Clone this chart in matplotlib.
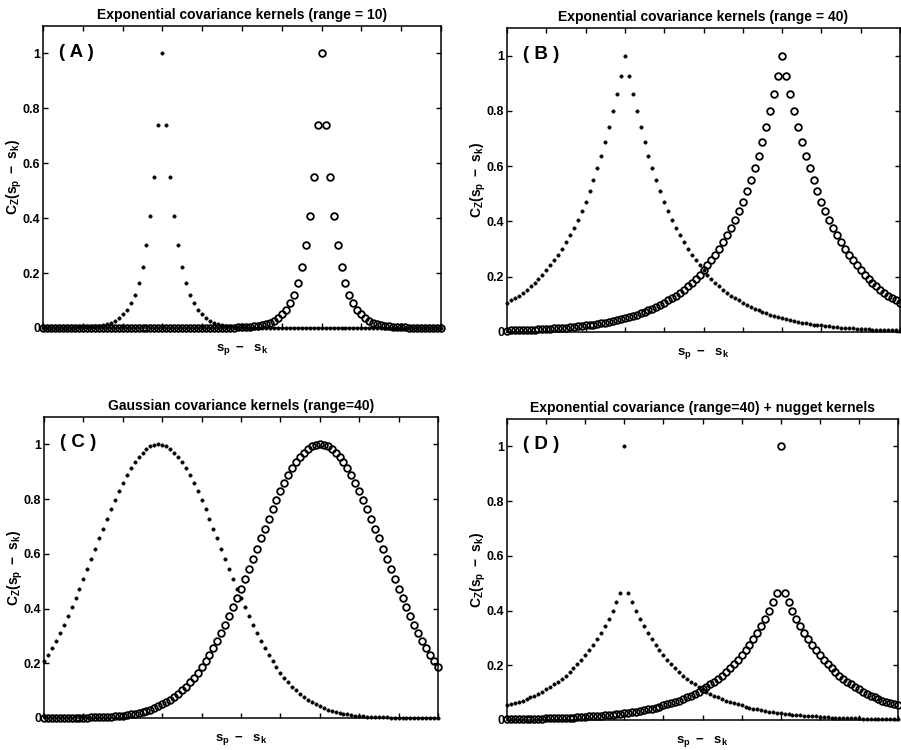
import matplotlib
matplotlib.use("Agg")
import matplotlib.pyplot as plt

plt.rcParams['font.family'] = ['Liberation Sans', 'DejaVu Sans']
plt.rcParams['font.weight'] = 'bold'
plt.rcParams['mathtext.fontset'] = 'custom'
plt.rcParams['mathtext.rm'] = 'Liberation Sans:bold'
plt.rcParams['mathtext.bf'] = 'Liberation Sans:bold'
plt.rcParams['mathtext.it'] = 'Liberation Sans:bold'
plt.rcParams['mathtext.sf'] = 'Liberation Sans:bold'
plt.rcParams['mathtext.default'] = 'bf'

# ---------------- data ----------------
x = list(range(0, 101))

titles = [
    "Exponential covariance kernels (range = 10)",
    "Exponential covariance kernels (range = 40)",
    "Gaussian covariance kernels (range=40)",
    "Exponential covariance (range=40) + nugget kernels",
]
panel_labels = ["( A )", "( B )", "( C )", "( D )"]
ytick_values = [0, 0.2, 0.4, 0.6, 0.8, 1.0]
ytick_labels = ["0", "0.2", "0.4", "0.6", "0.8", "1"]
xtick_values = [0, 10, 20, 30, 40, 50, 60, 70, 80, 90, 100]

a_dots = [
    0, 0, 0, 0, 0, 0.001, 0.001, 0.001, 0.001, 0.002,
    0.002, 0.003, 0.005, 0.006, 0.008, 0.011, 0.015, 0.020, 0.027, 0.037,
    0.050, 0.067, 0.091, 0.122, 0.165, 0.223, 0.301, 0.407, 0.549, 0.741,
    1.000,
    0.741, 0.549, 0.407, 0.301, 0.223, 0.165, 0.122, 0.091, 0.067, 0.050,
    0.037, 0.027, 0.020, 0.015, 0.011, 0.008, 0.006, 0.005, 0.003, 0.002,
    0.002, 0.001, 0.001, 0.001, 0.001,
    0, 0, 0, 0, 0, 0, 0, 0, 0, 0,
    0, 0, 0, 0, 0, 0, 0, 0, 0, 0,
    0, 0, 0, 0, 0, 0, 0, 0, 0, 0,
    0, 0, 0, 0, 0, 0, 0, 0, 0, 0,
    0, 0, 0, 0, 0,
]
a_open = [
    0, 0, 0, 0, 0, 0, 0, 0, 0, 0,
    0, 0, 0, 0, 0, 0, 0, 0, 0, 0,
    0, 0, 0, 0, 0, 0, 0, 0, 0, 0,
    0, 0, 0, 0, 0, 0, 0, 0, 0, 0,
    0, 0, 0, 0, 0,
    0.001, 0.001, 0.001, 0.001, 0.002,
    0.002, 0.003, 0.005, 0.006, 0.008, 0.011, 0.015, 0.020, 0.027, 0.037,
    0.050, 0.067, 0.091, 0.122, 0.165, 0.223, 0.301, 0.407, 0.549, 0.741,
    1.000,
    0.741, 0.549, 0.407, 0.301, 0.223, 0.165, 0.122, 0.091, 0.067, 0.050,
    0.037, 0.027, 0.020, 0.015, 0.011, 0.008, 0.006, 0.005, 0.003, 0.002,
    0.002, 0.001, 0.001, 0.001, 0.001,
    0, 0, 0, 0, 0,
]

b_dots = [
    0.105, 0.114, 0.122, 0.132, 0.142, 0.153, 0.165, 0.178, 0.192, 0.207,
    0.223, 0.241, 0.259, 0.279, 0.301, 0.325, 0.350, 0.377, 0.407, 0.438,
    0.472, 0.509, 0.549, 0.592, 0.638, 0.687, 0.741, 0.799, 0.861, 0.928,
    1.000,
    0.928, 0.861, 0.799, 0.741, 0.687, 0.638, 0.592, 0.549, 0.509, 0.472,
    0.438, 0.407, 0.377, 0.350, 0.325, 0.301, 0.279, 0.259, 0.241, 0.223,
    0.207, 0.192, 0.178, 0.165, 0.153, 0.142, 0.132, 0.122, 0.114, 0.105,
    0.098, 0.091, 0.084, 0.078, 0.072, 0.067, 0.062, 0.058, 0.054, 0.050,
    0.046, 0.043, 0.040, 0.037, 0.034, 0.032, 0.029, 0.027, 0.025, 0.024,
    0.022, 0.020, 0.019, 0.017, 0.016, 0.015, 0.014, 0.013, 0.012, 0.011,
    0.010, 0.010, 0.009, 0.008, 0.008, 0.007, 0.007, 0.006, 0.006, 0.005,
]
b_open = [
    0.005, 0.006, 0.006, 0.007, 0.007, 0.008, 0.008, 0.009, 0.010, 0.010,
    0.011, 0.012, 0.013, 0.014, 0.015, 0.016, 0.017, 0.019, 0.020, 0.022,
    0.024, 0.025, 0.027, 0.029, 0.032, 0.034, 0.037, 0.040, 0.043, 0.046,
    0.050, 0.054, 0.058, 0.062, 0.067, 0.072, 0.078, 0.084, 0.091, 0.098,
    0.105, 0.114, 0.122, 0.132, 0.142, 0.153, 0.165, 0.178, 0.192, 0.207,
    0.223, 0.241, 0.259, 0.279, 0.301, 0.325, 0.350, 0.377, 0.407, 0.438,
    0.472, 0.509, 0.549, 0.592, 0.638, 0.687, 0.741, 0.799, 0.861, 0.928,
    1.000,
    0.928, 0.861, 0.799, 0.741, 0.687, 0.638, 0.592, 0.549, 0.509, 0.472,
    0.438, 0.407, 0.377, 0.350, 0.325, 0.301, 0.279, 0.259, 0.241, 0.223,
    0.207, 0.192, 0.178, 0.165, 0.153, 0.142, 0.132, 0.122, 0.114, 0.105,
]

c_dots = [
    0.207, 0.230, 0.255, 0.282, 0.310, 0.340, 0.371, 0.404, 0.437,
    0.472, 0.508, 0.545, 0.582, 0.619, 0.656, 0.692, 0.728, 0.763, 0.797,
    0.829, 0.859, 0.887, 0.912, 0.935, 0.954, 0.970, 0.983, 0.993, 0.998,
    1.000,
    0.998, 0.993, 0.983, 0.970, 0.954, 0.935, 0.912, 0.887, 0.859, 0.829,
    0.797, 0.763, 0.728, 0.692, 0.656, 0.619, 0.582, 0.545, 0.508, 0.472,
    0.437, 0.404, 0.371, 0.340, 0.310, 0.282, 0.255, 0.230, 0.207, 0.185,
    0.165, 0.147, 0.130, 0.114, 0.101, 0.088, 0.077, 0.067, 0.058, 0.050,
    0.043, 0.037, 0.031, 0.027, 0.022, 0.019, 0.016, 0.013, 0.011, 0.009,
    0.008, 0.006, 0.005, 0.004, 0.003, 0.003, 0.002, 0.002, 0.001, 0.001,
    0.001, 0.001, 0.001, 0, 0, 0, 0, 0, 0, 0, 0,
]
c_open = [
    0, 0, 0, 0, 0, 0, 0, 0.001, 0.001, 0.001,
    0.001, 0.001, 0.002, 0.002, 0.003, 0.003, 0.004, 0.005, 0.006, 0.008,
    0.009, 0.011, 0.013, 0.016, 0.019, 0.022, 0.027, 0.031, 0.037, 0.043,
    0.050, 0.058, 0.067, 0.077, 0.088, 0.101, 0.114, 0.130, 0.147, 0.165,
    0.185, 0.207, 0.230, 0.255, 0.282, 0.310, 0.340, 0.371, 0.404, 0.437,
    0.472, 0.508, 0.545, 0.582, 0.619, 0.656, 0.692, 0.728, 0.763, 0.797,
    0.829, 0.859, 0.887, 0.912, 0.935, 0.954, 0.970, 0.983, 0.993, 0.998,
    1.000,
    0.998, 0.993, 0.983, 0.970, 0.954, 0.935, 0.912, 0.887, 0.859, 0.829,
    0.797, 0.763, 0.728, 0.692, 0.656, 0.619, 0.582, 0.545, 0.508, 0.472,
    0.437, 0.404, 0.371, 0.340, 0.310, 0.282, 0.255, 0.230, 0.207, 0.185,
]

d_dots = [
    0.053, 0.057, 0.061, 0.066, 0.071, 0.077, 0.083, 0.089, 0.096, 0.103,
    0.112, 0.120, 0.130, 0.140, 0.151, 0.162, 0.175, 0.189, 0.203, 0.219,
    0.236, 0.255, 0.274, 0.296, 0.319, 0.344, 0.370, 0.400, 0.430, 0.464,
    1.000,
    0.464, 0.430, 0.400, 0.370, 0.344, 0.319, 0.296, 0.274, 0.255, 0.236,
    0.219, 0.203, 0.189, 0.175, 0.162, 0.151, 0.140, 0.130, 0.120, 0.112,
    0.103, 0.096, 0.089, 0.083, 0.077, 0.071, 0.066, 0.061, 0.057, 0.053,
    0.049, 0.045, 0.042, 0.039, 0.036, 0.034, 0.031, 0.029, 0.027, 0.025,
    0.023, 0.021, 0.020, 0.018, 0.017, 0.016, 0.015, 0.014, 0.013, 0.012,
    0.011, 0.010, 0.009, 0.009, 0.008, 0.008, 0.007, 0.006, 0.006, 0.006,
    0.005, 0.005, 0.004, 0.004, 0.004, 0.004, 0.003, 0.003, 0.003, 0.003,
]
d_open = [
    0.003, 0.003, 0.003, 0.003, 0.004, 0.004, 0.004, 0.004, 0.005, 0.005,
    0.006, 0.006, 0.006, 0.007, 0.008, 0.008, 0.009, 0.009, 0.010, 0.011,
    0.012, 0.013, 0.014, 0.015, 0.016, 0.017, 0.018, 0.020, 0.021, 0.023,
    0.025, 0.027, 0.029, 0.031, 0.034, 0.036, 0.039, 0.042, 0.045, 0.049,
    0.053, 0.057, 0.061, 0.066, 0.071, 0.077, 0.083, 0.089, 0.096, 0.103,
    0.112, 0.120, 0.130, 0.140, 0.151, 0.162, 0.175, 0.189, 0.203, 0.219,
    0.236, 0.255, 0.274, 0.296, 0.319, 0.344, 0.370, 0.400, 0.430, 0.464,
    1.000,
    0.464, 0.430, 0.400, 0.370, 0.344, 0.319, 0.296, 0.274, 0.255, 0.236,
    0.219, 0.203, 0.189, 0.175, 0.162, 0.151, 0.140, 0.130, 0.120, 0.112,
    0.103, 0.096, 0.089, 0.083, 0.077, 0.071, 0.066, 0.061, 0.057, 0.053,
]

dots_series = [a_dots, b_dots, c_dots, d_dots]
open_series = [a_open, b_open, c_open, d_open]

# ---------------- layout ----------------
W, H = 901, 750
boxes = [  # left, top, right, bottom in pixels
    (43, 26, 441, 328),
    (507, 28, 900, 332),
    (44, 417, 438, 718),
    (507, 419, 898, 720),
]

fig = plt.figure(figsize=(W / 100, H / 100), dpi=100)
fig.patch.set_facecolor('white')

for i, (l, t, r, b) in enumerate(boxes):
    ax = fig.add_axes([l / W, 1 - b / H, (r - l) / W, (b - t) / H])
    ax.plot(x, dots_series[i], linestyle='none', marker='o', ms=2.5,
            mfc='black', mec='black', mew=0.3, clip_on=False, zorder=3)
    ax.plot(x, open_series[i], linestyle='none', marker='o', ms=4.8,
            mfc='none', mec='black', mew=1.3, clip_on=False, zorder=3)
    ax.set_xlim(0, 100)
    ax.set_ylim(0, 1.1)
    ax.set_xticks(xtick_values)
    ax.set_xticklabels([])
    ax.set_yticks(ytick_values)
    ax.set_yticklabels(ytick_labels)
    ax.tick_params(direction='in', top=True, right=True, length=3.5,
                   width=1.0, labelsize=9, pad=2)
    for lab in ax.get_yticklabels():
        lab.set_fontweight('bold')
    for sp in ax.spines.values():
        sp.set_linewidth(1.1)
    ax.set_title(titles[i], fontsize=10, fontweight='bold', pad=5)
    ax.set_ylabel(r"$C_Z(s_p\ -\ s_k)$", fontsize=10, labelpad=-1)
    ax.set_xlabel(r"$s_p\ -\ \ s_k$", fontsize=9.5, labelpad=8)
    ax.text(4, 1.005, panel_labels[i], fontsize=13.5, fontweight='bold',
            ha='left', va='center')

fig.savefig("out.png", dpi=100, facecolor='white')
